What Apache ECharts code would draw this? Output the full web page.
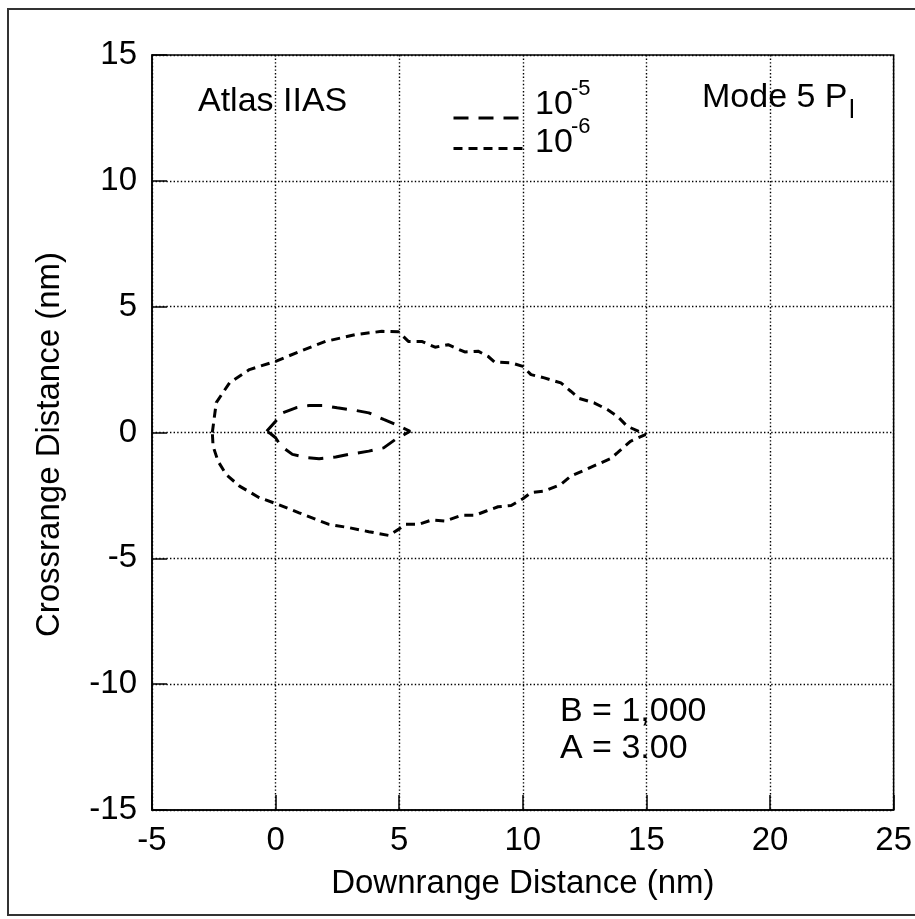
<!DOCTYPE html>
<html>
<head>
<meta charset="utf-8">
<script src="https://cdn.jsdelivr.net/npm/echarts@6/dist/echarts.min.js"></script>
<style>
html,body{margin:0;padding:0;background:#fff;}
#chart{width:915px;height:919px;}
</style>
</head>
<body>
<div id="chart"></div>
<script>
// ---- data ----
var xTicks = [-5, 0, 5, 10, 15, 20, 25];
var yTicks = [-15, -10, -5, 0, 5, 10, 15];
var seriesNames = ['10^-5', '10^-6'];

// 10^-5 contour (inner)
var innerX = [-0.36, 0, 0.28, 0.82, 1.35, 1.96, 2.49, 3.23, 3.77, 4.37, 4.9, 5.44, 4.84, 4.37, 3.77, 2.96, 2.43, 1.76, 1.29, 0.68, 0.22, 0, -0.2, -0.36];
var innerY = [0.05, 0.45, 0.78, 0.98, 1.07, 1.07, 0.98, 0.88, 0.78, 0.52, 0.3, 0.05, -0.28, -0.61, -0.74, -0.87, -0.97, -1.04, -1.0, -0.87, -0.54, -0.21, -0.05, 0.05];

// 10^-6 contour (outer)
var outerX = [-2.56, -2.40, -1.86, -1.06, 0, 1.0, 2.02, 3.23, 4.30, 4.97, 5.37, 5.91, 6.45, 6.98, 7.65, 8.19, 8.59, 8.86, 9.53, 10.0, 10.33, 10.87, 11.54, 11.94, 12.28, 12.88, 13.42, 13.82, 14.22, 14.96,
  14.35, 13.82, 13.55, 13.01, 12.48, 11.94, 11.54, 10.87, 10.33, 10.0, 9.53, 9.0, 8.52, 8.06, 7.52, 6.85, 6.31, 5.78, 5.24, 4.97, 4.57, 3.77, 2.96, 2.16, 1.62, 0.95, 0, -0.66, -1.46, -2.0, -2.33, -2.53, -2.56];
var outerY = [0, 1.19, 1.98, 2.5, 2.83, 3.23, 3.62, 3.89, 4.02, 4.0, 3.62, 3.62, 3.39, 3.49, 3.2, 3.23, 3.03, 2.8, 2.77, 2.63, 2.3, 2.17, 1.97, 1.64, 1.35, 1.18, 0.91, 0.65, 0.25, -0.08,
  -0.35, -0.81, -1.04, -1.27, -1.5, -1.73, -2.06, -2.33, -2.39, -2.63, -2.9, -2.95, -3.12, -3.29, -3.29, -3.52, -3.48, -3.65, -3.65, -3.85, -4.09, -3.94, -3.78, -3.65, -3.45, -3.19, -2.82, -2.59, -2.13, -1.67, -1.14, -0.54, 0];

function pairs(xs, ys) { return xs.map(function (x, i) { return [x, ys[i]]; }); }

var FONT = '"Liberation Sans", Arial, Helvetica, sans-serif';
var chart = echarts.init(document.getElementById('chart'));

var gridLine = { show: true, lineStyle: { color: '#000', width: 1.4, type: [1.4, 2.2] } };

chart.setOption({
  animation: false,
  backgroundColor: '#fff',
  grid: {
    left: 152, right: 17, top: 55, bottom: 109,
    show: true, borderColor: '#000', borderWidth: 1.5, backgroundColor: 'transparent'
  },
  legend: {
    orient: 'vertical',
    left: 447, top: 106,
    itemWidth: 71, itemHeight: 14, itemGap: 18,
    selectedMode: false,
    data: seriesNames,
    formatter: function () { return ''; },
    textStyle: { fontSize: 1 },
    itemStyle: { opacity: 0, borderWidth: 0 },
    lineStyle: { width: 3, color: '#000' }
  },
  xAxis: {
    type: 'value',
    min: xTicks[0], max: xTicks[xTicks.length - 1], interval: 5,
    name: 'Downrange Distance (nm)',
    nameLocation: 'middle', nameGap: 57,
    nameTextStyle: { fontSize: 33, color: '#000', fontFamily: FONT },
    axisLine: { show: true, onZero: false, lineStyle: { color: '#000', width: 1.5 } },
    axisTick: { show: true, inside: true, length: 15, lineStyle: { color: '#000', width: 1.5 } },
    axisLabel: { fontSize: 33, color: '#000', fontFamily: FONT, margin: 14 },
    splitLine: gridLine
  },
  yAxis: {
    type: 'value',
    min: yTicks[0], max: yTicks[yTicks.length - 1], interval: 5,
    name: 'Crossrange Distance (nm)',
    nameLocation: 'middle', nameGap: 86,
    nameTextStyle: { fontSize: 33, color: '#000', fontFamily: FONT, padding: [0, 24, 0, 0] },
    axisLine: { show: true, onZero: false, lineStyle: { color: '#000', width: 1.5 } },
    axisTick: { show: true, inside: true, length: 15, lineStyle: { color: '#000', width: 1.5 } },
    axisLabel: { fontSize: 33, color: '#000', fontFamily: FONT, margin: 15 },
    splitLine: gridLine
  },
  series: [
    {
      name: seriesNames[0], type: 'line', symbol: 'none', smooth: false,
      data: pairs(innerX, innerY),
      lineStyle: { color: '#000', width: 3, type: [15, 10] },
      itemStyle: { color: '#000' }
    },
    {
      name: seriesNames[1], type: 'line', symbol: 'none', smooth: false,
      data: pairs(outerX, outerY),
      lineStyle: { color: '#000', width: 3, type: [9, 6] },
      itemStyle: { color: '#000' }
    }
  ],
  graphic: [
    { type: 'rect', shape: { x: 8, y: 9, width: 912, height: 906 }, style: { fill: 'none', stroke: '#333', lineWidth: 2 }, silent: true },
    { type: 'text', x: 198, y: 102, style: { text: 'Atlas IIAS', fontSize: 34, fontFamily: FONT, fill: '#000', verticalAlign: 'middle' } },
    { type: 'text', x: 702, y: 98, style: { text: 'Mode 5 P', fontSize: 34, fontFamily: FONT, fill: '#000', verticalAlign: 'middle' } },
    { type: 'text', x: 849, y: 111, style: { text: 'l', fontSize: 26, fontFamily: FONT, fill: '#000', verticalAlign: 'middle' } },
    { type: 'text', x: 535, y: 105, style: { text: '10', fontSize: 34, fontFamily: FONT, fill: '#000', verticalAlign: 'middle' } },
    { type: 'text', x: 571, y: 89, style: { text: '-5', fontSize: 22, fontFamily: FONT, fill: '#000', verticalAlign: 'middle' } },
    { type: 'text', x: 535, y: 143, style: { text: '10', fontSize: 34, fontFamily: FONT, fill: '#000', verticalAlign: 'middle' } },
    { type: 'text', x: 571, y: 127, style: { text: '-6', fontSize: 22, fontFamily: FONT, fill: '#000', verticalAlign: 'middle' } },
    { type: 'text', x: 560, y: 712, style: { text: 'B = 1,000', fontSize: 34, fontFamily: FONT, fill: '#000', verticalAlign: 'middle' } },
    { type: 'text', x: 560, y: 749, style: { text: 'A = 3.00', fontSize: 34, fontFamily: FONT, fill: '#000', verticalAlign: 'middle' } }
  ]
});
</script>
</body>
</html>
